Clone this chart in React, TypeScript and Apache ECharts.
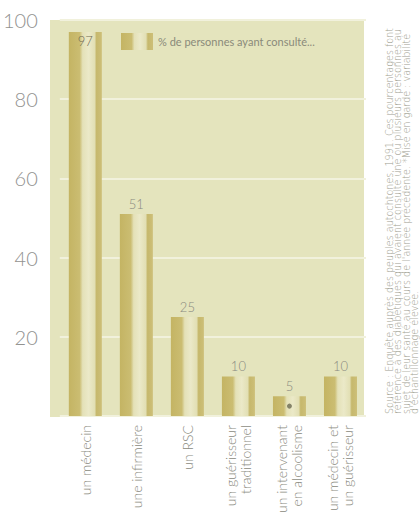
import React, { useEffect, useRef } from "react";
import * as echarts from "echarts";

const categories = [
  "un médecin",
  "une infirmière",
  "un RSC",
  "un guérisseur\ntraditionnel",
  "un intervenant\nen alcoolisme",
  "un médecin et\nun guérisseur",
];
const values = [97, 51, 25, 10, 5, 10];
const cautionMarks = [null, null, null, null, 2.5, null];
const seriesName = "% de personnes ayant consulté...";
const yTicks = [20, 40, 60, 80, 100];
const noteLines = [
  "Source : Enquête auprès des peuples autochtones, 1991. Ces pourcentages font",
  "référence à des diabétiques qui avaient consulté une ou plusieurs personnes au",
  "sujet de leur santé au cours de l'année précédente. *Mise en garde : variabilité",
  "d'échantillonnage élevée.",
];

const FONT = "Lato, 'Open Sans', sans-serif";

export default function App() {
  const ref = useRef<HTMLDivElement>(null);
  useEffect(() => {
    if (!ref.current) return;
    const chart = echarts.init(ref.current, null, { renderer: "svg" });
    const barGrad = new echarts.graphic.LinearGradient(0, 0, 1, 0, [
      { offset: 0, color: "#c4b463" },
      { offset: 0.33, color: "#cbbd72" },
      { offset: 0.42, color: "#e4e1b8" },
      { offset: 0.6, color: "#ebe9c8" },
      { offset: 0.78, color: "#e2dfb4" },
      { offset: 0.84, color: "#c6b86c" },
      { offset: 1, color: "#cdbf78" },
    ]);
    chart.setOption({
      animation: false,
      textStyle: { fontFamily: FONT },
      graphic: [
        {
          type: "rect",
          z: -10,
          silent: true,
          shape: { x: 50, y: 20, width: 314, height: 397 },
          style: { fill: "#e4e4bd" },
        },
        {
          type: "text",
          x: 385,
          y: 414,
          rotation: Math.PI / 2,
          silent: true,
          style: {
            text: noteLines.join("\n"),
            font: `300 9.6px 'DejaVu Sans', sans-serif`,
            fill: "#a0a090",
            lineHeight: 8.5,
            textAlign: "left",
            textVerticalAlign: "top",
          },
        },
      ],
      legend: {
        left: 116,
        top: 28,
        icon: "rect",
        itemWidth: 32,
        itemHeight: 17,
        itemGap: 6,
        data: [seriesName],
        textStyle: { color: "#8a8a7a", fontSize: 11, fontFamily: FONT },
      },
      grid: { left: 58, right: 54, top: 20, bottom: 116, containLabel: false },
      xAxis: {
        type: "category",
        data: categories,
        axisLine: { show: false },
        axisTick: { show: false },
        axisLabel: {
          rotate: 90,
          interval: 0,
          margin: 9,
          color: "#8a8a80",
          fontSize: 14,
          lineHeight: 15,
          fontFamily: FONT,
          fontWeight: 300,
        },
      },
      yAxis: {
        type: "value",
        min: 0,
        max: 100,
        interval: 20,
        axisLine: { show: false },
        axisTick: { show: false },
        splitLine: { show: true, lineStyle: { color: "#f1f1dc", width: 2 } },
        axisLabel: {
          margin: 22,
          color: "#929290",
          fontSize: 20,
          fontFamily: FONT,
          fontWeight: 300,
          formatter: (v: number) => (yTicks.includes(v) ? String(v) : ""),
        },
      },
      series: [
        {
          name: seriesName,
          type: "bar",
          barWidth: 33,
          itemStyle: { color: barGrad },
          data: values.map((v, i) =>
            i === 0
              ? {
                  value: v,
                  label: { position: "insideTop", distance: 3, color: "#6e6a50" },
                }
              : v
          ),
          label: {
            show: true,
            position: "top",
            distance: 4,
            color: "#8a8a80",
            fontSize: 13,
            fontFamily: FONT,
            fontWeight: 300,
          },
        },
        {
          name: "caution",
          type: "scatter",
          symbol: "circle",
          symbolSize: 5,
          itemStyle: { color: "#6b6a52" },
          data: cautionMarks,
          z: 5,
        },
      ],
    });
    return () => chart.dispose();
  }, []);
  return (
    <div
      ref={ref}
      style={{ position: "fixed", left: 0, top: 0, width: 420, height: 532, background: "#fff" }}
    />
  );
}
